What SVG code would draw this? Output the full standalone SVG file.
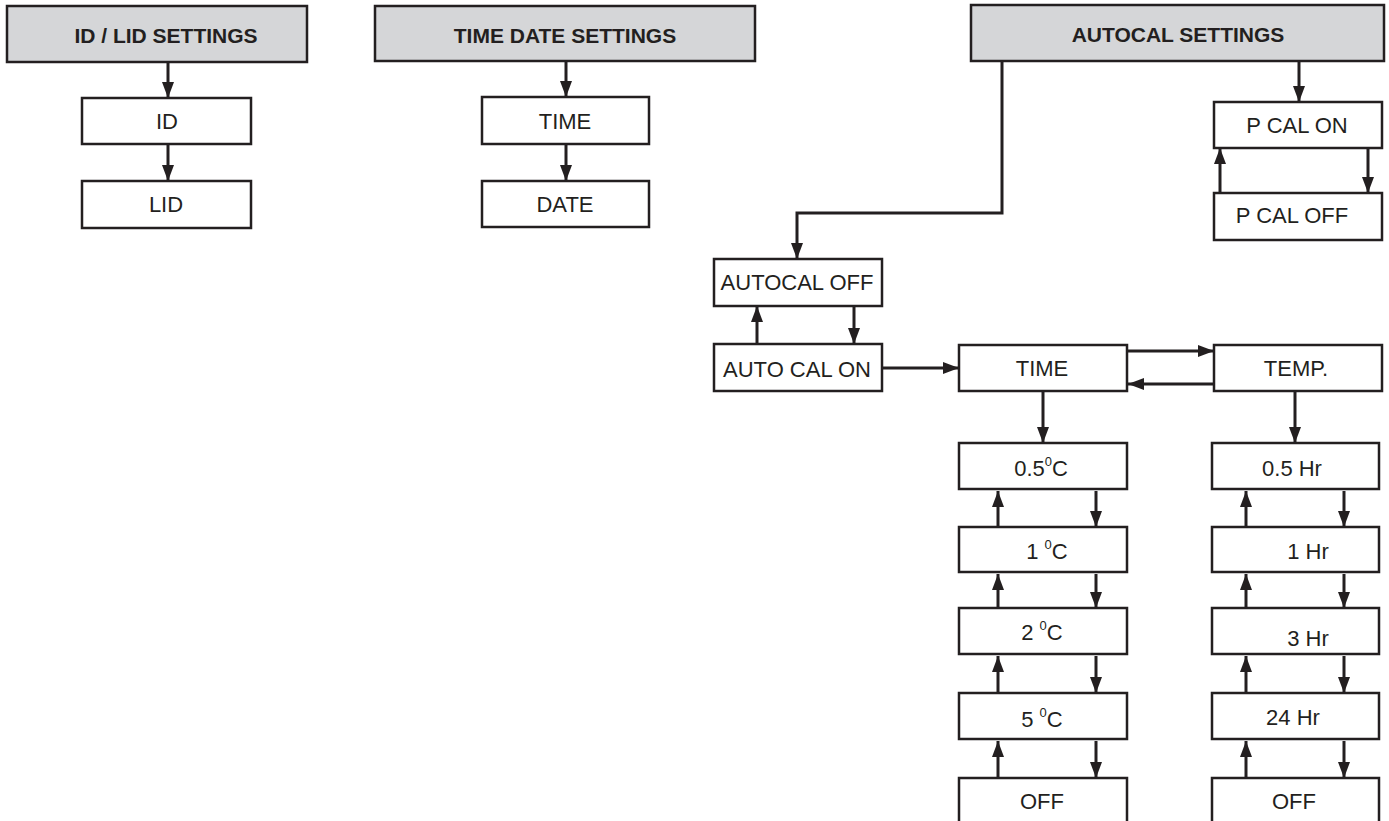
<svg xmlns="http://www.w3.org/2000/svg" width="1389" height="821" viewBox="0 0 1389 821">
<style>
.hdr{fill:#d5d6d8;stroke:#231f20;stroke-width:2.5}
.box{fill:#ffffff;stroke:#231f20;stroke-width:2.5}
.ht{font-family:"Liberation Sans",Arial,sans-serif;font-weight:bold;font-size:21px;fill:#231f20;text-anchor:middle}
.t{font-family:"Liberation Sans",Arial,sans-serif;font-size:22px;fill:#231f20;text-anchor:middle}
.sup{font-size:13px}
.c{fill:none;stroke:#231f20;stroke-width:3;marker-end:url(#ah)}
</style>
<defs>
<marker id="ah" markerUnits="userSpaceOnUse" markerWidth="17" markerHeight="13" refX="16" refY="6" orient="auto">
<path d="M0,0 L16,6 L0,12 Z" fill="#231f20"/>
</marker>
</defs>
<rect width="1389" height="821" fill="#ffffff"/>
<g id="connectors">
<path class="c" d="M168,63 V98"/>
<path class="c" d="M168,145 V181"/>
<path class="c" d="M566,62 V97"/>
<path class="c" d="M566,145 V181"/>
<path class="c" d="M1299,62 V102"/>
<path class="c" d="M1220,193 V148"/>
<path class="c" d="M1368,149 V193"/>
<path class="c" d="M1002,62 V213 H797 V259"/>
<path class="c" d="M757,344 V306"/>
<path class="c" d="M854,307 V344"/>
<path class="c" d="M883,368 H959"/>
<path class="c" d="M1128,351 H1214"/>
<path class="c" d="M1214,384 H1128"/>
<path class="c" d="M1043,392 V443"/>
<path class="c" d="M1295,392 V443"/>
<path class="c" d="M998,527 V491"/>
<path class="c" d="M1096,491 V527"/>
<path class="c" d="M998,608 V574"/>
<path class="c" d="M1096,574 V608"/>
<path class="c" d="M998,693 V656"/>
<path class="c" d="M1096,656 V693"/>
<path class="c" d="M998,778 V741"/>
<path class="c" d="M1096,741 V778"/>
<path class="c" d="M1246,527 V491"/>
<path class="c" d="M1344,491 V527"/>
<path class="c" d="M1246,608 V574"/>
<path class="c" d="M1344,574 V608"/>
<path class="c" d="M1246,693 V656"/>
<path class="c" d="M1344,656 V693"/>
<path class="c" d="M1246,778 V741"/>
<path class="c" d="M1344,741 V778"/>
</g>
<g id="hdr-id-lid"><rect class="hdr" x="7" y="6" width="300" height="56"/><text class="ht" x="166" y="43">ID / LID SETTINGS</text></g>
<g id="hdr-time-date"><rect class="hdr" x="375" y="6" width="380" height="55"/><text class="ht" x="565" y="43">TIME DATE SETTINGS</text></g>
<g id="hdr-autocal"><rect class="hdr" x="971" y="5" width="413" height="56"/><text class="ht" x="1178" y="42">AUTOCAL SETTINGS</text></g>
<g id="n-id"><rect class="box" x="82" y="98" width="169" height="46"/><text class="t" x="167" y="129">ID</text></g>
<g id="n-lid"><rect class="box" x="82" y="181" width="169" height="47"/><text class="t" x="166" y="212">LID</text></g>
<g id="n-time1"><rect class="box" x="482" y="97" width="167" height="47"/><text class="t" x="565" y="129">TIME</text></g>
<g id="n-date"><rect class="box" x="482" y="181" width="167" height="46"/><text class="t" x="565" y="212">DATE</text></g>
<g id="n-pcalon"><rect class="box" x="1214" y="102" width="168" height="46"/><text class="t" x="1297" y="133">P CAL ON</text></g>
<g id="n-pcaloff"><rect class="box" x="1214" y="193" width="168" height="47"/><text class="t" x="1292" y="223">P CAL OFF</text></g>
<g id="n-autocaloff"><rect class="box" x="714" y="259" width="168" height="47"/><text class="t" x="797" y="290">AUTOCAL OFF</text></g>
<g id="n-autocalon"><rect class="box" x="714" y="344" width="168" height="47"/><text class="t" x="797" y="377">AUTO CAL ON</text></g>
<g id="n-time2"><rect class="box" x="959" y="345" width="168" height="46"/><text class="t" x="1042" y="376">TIME</text></g>
<g id="n-temp"><rect class="box" x="1214" y="345" width="168" height="46"/><text class="t" x="1296" y="376">TEMP.</text></g>
<g id="n-c05"><rect class="box" x="959" y="443" width="168" height="46"/><text class="t" x="1041" y="476">0.5<tspan class="sup" dy="-10">0</tspan><tspan dy="10">C</tspan></text></g>
<g id="n-c1"><rect class="box" x="959" y="527" width="168" height="45"/><text class="t" x="1047" y="559">1 <tspan class="sup" dy="-10">0</tspan><tspan dy="10">C</tspan></text></g>
<g id="n-c2"><rect class="box" x="959" y="608" width="168" height="46"/><text class="t" x="1042" y="640">2 <tspan class="sup" dy="-10">0</tspan><tspan dy="10">C</tspan></text></g>
<g id="n-c5"><rect class="box" x="959" y="693" width="168" height="46"/><text class="t" x="1042" y="727">5 <tspan class="sup" dy="-10">0</tspan><tspan dy="10">C</tspan></text></g>
<g id="n-coff"><rect class="box" x="959" y="778" width="168" height="50"/><text class="t" x="1042" y="809">OFF</text></g>
<g id="n-h05"><rect class="box" x="1212" y="443" width="167" height="46"/><text class="t" x="1292" y="476">0.5 Hr</text></g>
<g id="n-h1"><rect class="box" x="1212" y="527" width="167" height="45"/><text class="t" x="1308" y="559">1 Hr</text></g>
<g id="n-h3"><rect class="box" x="1212" y="608" width="167" height="46"/><text class="t" x="1308" y="646">3 Hr</text></g>
<g id="n-h24"><rect class="box" x="1212" y="693" width="167" height="46"/><text class="t" x="1293" y="725">24 Hr</text></g>
<g id="n-hoff"><rect class="box" x="1212" y="778" width="167" height="50"/><text class="t" x="1294" y="809">OFF</text></g>
</svg>
